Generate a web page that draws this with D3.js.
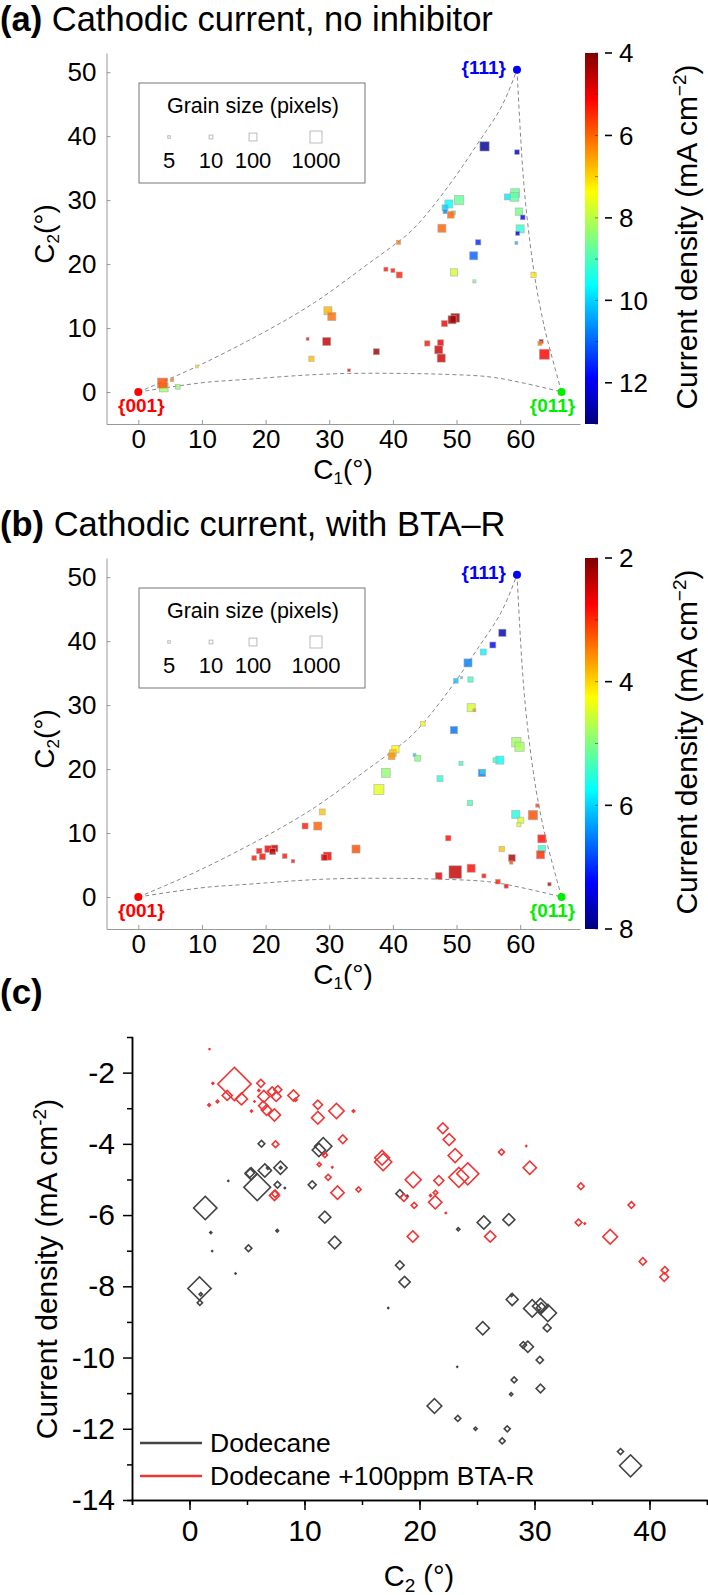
<!DOCTYPE html>
<html>
<head>
<meta charset="utf-8">
<script src="https://cdn.jsdelivr.net/npm/d3@7"></script>
<style>
  body { margin: 0; background: #fff; }
  text { font-family: "Liberation Sans", Arial, sans-serif; }
</style>
</head>
<body>
<svg id="fig"></svg>
<script>
const W = 708, H = 1595;
const svg = d3.select('#fig').attr('width', W).attr('height', H);

// ---------- data ----------
// corners of the standard triangle
const cornerLabels = ['{001}', '{111}', '{011}'];
const cornerC1 = [0, 59.5, 66.5];
const cornerC2 = [0, 50.4, 0];
const cornerColors = ['#ff0000', '#0000ff', '#00ee00'];

// triangle edges
const edgeAC1 = [0, 9.2, 19.1, 27.7, 34.7, 40.6, 44.7, 49.9, 53.7, 57.0, 59.5];
const edgeAC2 = [0, 4.0, 9.0, 14.0, 19.0, 23.3, 27.1, 33.8, 39.4, 44.5, 50.4];
const edgeBC1 = [0, 9.6, 15.9, 24, 33, 42, 47, 52.3, 57, 62.8, 66.5];
const edgeBC2 = [0, 1.4, 1.9, 2.5, 2.9, 2.9, 2.8, 2.6, 2.1, 0.9, 0];
const edgeCC1 = [59.5, 60.1, 60.9, 62.2, 63.3, 64.3, 66.5];
const edgeCC2 = [50.4, 39.4, 29.0, 18.6, 12.5, 8.1, 0];

// (a) no inhibitor: C1, C2 (deg), current density (mA cm-2), grain size (pixels)
const aC1 = [54.4,59.5,50.4,48.8,48.2,48.2,49.5,49.1,47.7,58.0,59.2,59.1,59.8,60.4,60.0,59.6,59.4,53.4,52.7,49.6,52.8,62.1,40.9,38.9,40.0,41.0,29.8,30.4,49.8,49.3,48.1,26.6,29.6,45.4,47.5,47.2,47.6,37.4,27.2,33.1,63.3,63.1,63.8,9.2,5.3,4.0,3.8,6.2];
const aC2 = [38.4,37.5,30.0,29.4,28.8,28.2,28.0,27.7,25.6,30.5,31.1,30.5,28.2,27.3,25.5,24.8,23.3,23.4,21.3,18.7,17.3,18.3,23.4,19.2,19.0,18.3,12.7,11.8,11.6,11.3,10.7,8.3,7.9,7.6,7.7,6.6,5.3,6.3,5.2,3.4,7.9,7.6,5.9,4.0,1.9,0.7,1.4,0.8];
const aJ = [-12.8,-12.5,-8.7,-9.6,-10.0,-10.7,-8.6,-6.0,-6.0,-9.8,-8.7,-8.8,-8.6,-12.1,-9.2,-12.0,-10.3,-11.5,-11.0,-7.8,-8.5,-7.2,-6.2,-5.3,-5.3,-5.4,-6.7,-6.1,-4.3,-4.3,-5.1,-5.1,-4.6,-5.3,-5.0,-4.7,-4.7,-4.3,-6.8,-5.1,-4.5,-6.2,-5.1,-7.3,-6.2,-8.2,-5.8,-8.3];
const aGrain = [220,17,220,110,35,12,12,52,110,35,160,160,73,17,110,12,6,24,110,73,7,24,12,12,12,35,110,110,160,110,35,6,110,24,35,110,110,35,24,6,12,12,330,6,8,160,330,17];

// (b) with BTA-R
const bC1 = [57.2,55.7,54.2,51.8,49.9,50.8,52.2,52.3,52.8,49.6,44.7,40.4,40.0,39.8,43.4,43.9,38.9,37.8,59.4,59.9,56.8,56.1,50.7,54.0,54.1,47.4,52.1,59.3,60.1,59.8,62.0,62.7,63.4,63.4,63.2,57.1,58.7,58.6,48.7,49.8,47.2,52.3,54.3,56.5,57.8,64.6,34.2,28.9,26.2,28.2,29.7,29.2,21.4,20.4,21.1,19.0,19.5,18.2,23.0,24.3];
const bC2 = [41.3,39.4,38.3,36.6,33.8,34.3,34.0,29.6,29.2,26.1,27.1,23.1,22.5,22.0,22.2,21.7,19.4,16.8,24.2,23.5,21.4,21.4,20.9,19.4,19.6,18.5,14.7,12.9,12.0,11.3,12.8,14.3,9.1,7.5,6.6,7.5,6.1,5.4,9.2,3.9,3.3,4.5,3.3,2.4,1.7,2.0,7.5,13.3,11.1,11.1,6.4,6.2,7.6,7.5,7.1,7.2,6.3,6.1,6.4,5.6];
const bJ = [-7.7,-7.3,-5.8,-6.5,-6.1,-5.9,-5.4,-4.5,-3.6,-6.6,-4.2,-4.2,-3.9,-3.6,-6.0,-5.0,-4.9,-4.4,-4.8,-4.8,-5.7,-5.4,-5.4,-6.5,-5.9,-5.5,-5.3,-5.6,-4.5,-4.4,-3.2,-3.1,-2.8,-5.5,-3.0,-3.9,-2.3,-3.2,-2.8,-2.4,-2.6,-2.8,-2.8,-2.9,-2.7,-2.3,-3.2,-3.9,-2.9,-3.3,-2.7,-2.6,-2.4,-2.7,-2.4,-2.8,-2.8,-2.9,-2.9,-2.8];
const bGrain = [73,35,35,110,17,4,24,110,6,73,17,73,52,52,6,35,160,330,220,220,110,17,12,73,12,35,24,110,35,12,220,8,110,73,110,24,52,8,24,1400,52,110,12,17,12,8,110,35,35,110,110,35,52,52,35,24,35,17,17,8];

const legendGrain = [5, 10, 100, 1000];

// (c) current density vs C2
const dodC2 = [6.26,11.25,11.63,5.36,5.25,6.55,6.81,7.91,7.93,5.89,7.65,8.29,3.37,10.67,1.37,11.77,1.85,7.63,12.63,5.13,1.97,18.29,18.93,18.29,4.00,0.87,0.98,0.90,25.59,27.77,23.37,18.70,17.28,28.06,28.00,29.80,30.52,31.16,30.60,31.10,25.50,29.02,29.42,30.46,23.28,28.23,30.52,27.97,21.30,23.33,24.87,27.63,27.19,37.48,38.35];
const dodJ = [-4.00,-4.17,-4.07,-4.84,-4.82,-4.75,-4.68,-4.67,-4.67,-5.22,-5.15,-5.24,-5.04,-5.15,-5.80,-6.06,-6.49,-6.44,-6.77,-6.93,-7.01,-5.40,-5.47,-7.41,-7.64,-8.06,-8.22,-8.46,-6.21,-6.13,-6.40,-7.88,-8.61,-8.37,-8.25,-8.62,-8.56,-8.75,-8.60,-9.17,-9.18,-9.65,-9.70,-10.07,-10.26,-10.63,-10.87,-11.03,-11.36,-11.71,-12.00,-12.00,-12.34,-12.64,-13.04];
const dodGrain = [39,153,259,125,75,153,6,153,6,617,39,1.5,1,55,470,125,3.5,6,140,39,1,55,3.5,65,1,470,9,24,153,125,9,110,1,125,6,259,221,259,87,55,153,39,110,46,0.5,31,65,9,187,31,9,31,31,31,419];

const btaC2 = [1.74,3.91,2.03,3.28,4.52,1.71,2.43,5.39,6.20,6.03,6.46,7.19,7.68,7.54,6.41,6.70,7.39,5.65,9.04,9.22,11.16,11.16,12.78,14.26,7.48,13.33,11.77,11.28,12.41,12.06,12.87,14.70,7.39,7.45,16.75,16.84,19.45,18.64,19.54,19.42,22.03,22.58,23.10,21.68,23.42,24.20,27.13,29.28,29.59,21.39,20.96,21.37,22.29,26.15,34.03,34.37,33.83,36.58,38.43,39.42,41.33,41.28];
const btaJ = [-1.34,-2.32,-2.30,-2.64,-2.74,-2.91,-2.81,-3.08,-2.30,-2.50,-2.67,-2.53,-2.48,-2.67,-2.93,-3.05,-3.19,-2.81,-2.64,-2.76,-2.90,-3.27,-3.08,-3.08,-4.01,-3.87,-4.31,-4.58,-4.66,-4.94,-5.37,-5.28,-5.45,-5.40,-4.39,-4.51,-5.01,-5.51,-5.73,-6.60,-3.56,-3.88,-4.33,-5.03,-4.94,-4.84,-4.23,-4.06,-4.67,-5.37,-5.45,-5.64,-5.94,-6.60,-5.19,-6.24,-6.21,-6.61,-5.72,-7.30,-7.55,-7.74];
const btaGrain = [0.5,960,3.5,87,125,6,6,3.5,55,3.5,125,75,55,87,75,99,125,1.5,110,9,75,140,203,6,39,65,24,14,1.5,31,153,24,87,46,187,259,221,46,31,110,99,125,170,87,346,419,31,1,153,19,3.5,153,1.5,110,39,1.5,39,187,39,46,46,65];

const seriesNames = ['Dodecane', 'Dodecane +100ppm BTA-R'];
const seriesColors = ['#444444', '#f03535'];

// ---------- helpers ----------
// jet colormap
const clamp = v => Math.max(0, Math.min(1, v));
const jet = t => d3.rgb(
  255 * clamp(1.5 - Math.abs(4 * t - 3)),
  255 * clamp(1.5 - Math.abs(4 * t - 2)),
  255 * clamp(1.5 - Math.abs(4 * t - 1))
).formatHex();

const squareSide = d3.scaleLog().domain([5, 1000]).range([2.5, 12]);

function trianglePanel(id, y0, tag, titleRest, c1, c2, cur, grain, cDomain, cTicks) {
  const g = svg.append('g').attr('class', 'panel-' + id);
  const x = d3.scaleLinear().domain([-5, 69.4]).range([106.5, 580]);
  const y = d3.scaleLinear().domain([-5, 53]).range([y0 + 424, y0 + 53]);
  const color = v => jet((v - cDomain[0]) / (cDomain[1] - cDomain[0]));

  // title
  const t = g.append('text').attr('x', 0).attr('y', y0 + 31).attr('font-size', 34.5);
  t.append('tspan').attr('font-weight', 'bold').text(tag);
  t.append('tspan').text(' ' + titleRest);

  // axes (inward ticks)
  const xAxis = g.append('g').attr('transform', `translate(0,${y0 + 424})`)
    .call(d3.axisBottom(x).tickValues(d3.range(0, 61, 10)).tickSizeInner(-4).tickSizeOuter(0).tickPadding(6));
  const yAxis = g.append('g').attr('transform', 'translate(106.5,0)')
    .call(d3.axisLeft(y).tickValues(d3.range(0, 51, 10)).tickSizeInner(-4).tickSizeOuter(0).tickPadding(10));
  [xAxis, yAxis].forEach(a => {
    a.attr('font-family', null).attr('font-size', null);
    a.selectAll('path, line').attr('stroke', '#999');
    a.selectAll('text').attr('font-size', 26).attr('fill', '#000');
  });

  const xl = g.append('text').attr('x', 343).attr('y', y0 + 479).attr('text-anchor', 'middle').attr('font-size', 28);
  xl.append('tspan').text('C');
  xl.append('tspan').attr('font-size', 17).attr('dy', 5).text('1');
  xl.append('tspan').attr('dy', -5).text('(°)');
  const yl = g.append('text').attr('transform', `translate(54,${y0 + 234}) rotate(-90)`).attr('text-anchor', 'middle').attr('font-size', 28);
  yl.append('tspan').text('C');
  yl.append('tspan').attr('font-size', 17).attr('dy', 5).text('2');
  yl.append('tspan').attr('dy', -5).text('(°)');

  // triangle edges
  const edge = d3.line().x(d => x(d[0])).y(d => y(d[1])).curve(d3.curveNatural);
  [[edgeAC1, edgeAC2], [edgeBC1, edgeBC2], [edgeCC1, edgeCC2]].forEach(([ec1, ec2]) => {
    g.append('path')
      .attr('d', edge(ec1.map((v, i) => [v, ec2[i]])))
      .attr('fill', 'none')
      .attr('stroke', '#888')
      .attr('stroke-width', 1)
      .attr('stroke-dasharray', '4,3');
  });

  // grains
  const pts = c1.map((v, i) => ({c1: v, c2: c2[i], j: cur[i], s: squareSide(grain[i])}));
  g.selectAll('.grain')
    .data(pts)
    .join('rect')
    .attr('class', 'grain')
    .attr('x', d => x(d.c1) - d.s / 2)
    .attr('y', d => y(d.c2) - d.s / 2)
    .attr('width', d => d.s)
    .attr('height', d => d.s)
    .attr('fill', d => color(d.j))
    .attr('fill-opacity', 0.82)
    .attr('stroke', '#aaa')
    .attr('stroke-opacity', 0.7)
    .attr('stroke-width', 0.8);

  // corners
  const corners = cornerLabels.map((l, i) => ({l, c1: cornerC1[i], c2: cornerC2[i], col: cornerColors[i]}));
  g.selectAll('.corner')
    .data(corners)
    .join('circle')
    .attr('class', 'corner')
    .attr('cx', d => x(d.c1))
    .attr('cy', d => y(d.c2))
    .attr('r', 4)
    .attr('fill', d => d.col);
  const labelPos = [[3, 20, 'middle'], [-11, 4, 'end'], [-9, 20, 'middle']];
  g.selectAll('.corner-label')
    .data(corners)
    .join('text')
    .attr('class', 'corner-label')
    .attr('x', (d, i) => x(d.c1) + labelPos[i][0])
    .attr('y', (d, i) => y(d.c2) + labelPos[i][1])
    .attr('text-anchor', (d, i) => labelPos[i][2])
    .attr('font-size', 19)
    .attr('font-weight', 'bold')
    .attr('fill', d => d.col)
    .text(d => d.l);

  // grain size legend
  g.append('rect')
    .attr('x', 139).attr('y', y0 + 83).attr('width', 226).attr('height', 100)
    .attr('fill', '#fff').attr('stroke', '#777').attr('stroke-width', 1);
  g.append('text').attr('x', 253).attr('y', y0 + 113).attr('text-anchor', 'middle')
    .attr('font-size', 21.5).text('Grain size (pixels)');
  const legX = [169, 211, 253, 316];
  g.selectAll('.leg-sym')
    .data(legendGrain)
    .join('rect')
    .attr('class', 'leg-sym')
    .attr('x', (d, i) => legX[i] - squareSide(d) / 2)
    .attr('y', d => y0 + 137 - squareSide(d) / 2)
    .attr('width', d => squareSide(d))
    .attr('height', d => squareSide(d))
    .attr('fill', '#fff')
    .attr('stroke', '#bbb')
    .attr('stroke-width', 1);
  g.selectAll('.leg-lab')
    .data(legendGrain)
    .join('text')
    .attr('class', 'leg-lab')
    .attr('x', (d, i) => legX[i])
    .attr('y', y0 + 168)
    .attr('text-anchor', 'middle')
    .attr('font-size', 22)
    .text(d => d);

  // colour bar
  const cs = d3.scaleLinear().domain(cDomain).range([y0 + 424, y0 + 53]);
  const grad = svg.append('defs').append('linearGradient')
    .attr('id', 'jet-' + id).attr('x1', 0).attr('y1', 1).attr('x2', 0).attr('y2', 0);
  grad.selectAll('stop')
    .data(d3.range(0, 1.0001, 0.025))
    .join('stop')
    .attr('offset', d => d)
    .attr('stop-color', d => jet(d));
  g.append('rect')
    .attr('x', 585).attr('y', y0 + 53).attr('width', 13).attr('height', 371)
    .attr('fill', `url(#jet-${id})`);
  g.selectAll('.cb-minor')
    .data(d3.range(Math.ceil(cDomain[0]), cDomain[1] + 0.001, 1))
    .join('line')
    .attr('class', 'cb-minor')
    .attr('x1', 595).attr('x2', 598)
    .attr('y1', d => cs(d)).attr('y2', d => cs(d))
    .attr('stroke', '#222').attr('stroke-opacity', 0.5);
  g.selectAll('.cb-tick')
    .data(cTicks)
    .join('line')
    .attr('class', 'cb-tick')
    .attr('x1', 605).attr('x2', 612)
    .attr('y1', d => cs(d)).attr('y2', d => cs(d))
    .attr('stroke', '#000').attr('stroke-width', 1.6);
  g.selectAll('.cb-lab')
    .data(cTicks)
    .join('text')
    .attr('class', 'cb-lab')
    .attr('x', 619)
    .attr('y', d => cs(d))
    .attr('dy', '0.36em')
    .attr('font-size', 26)
    .text(d => Math.abs(d));
  const cl = g.append('text').attr('transform', `translate(697,${y0 + 237}) rotate(-90)`)
    .attr('text-anchor', 'middle').attr('font-size', 30);
  cl.append('tspan').text('Current density (mA cm');
  cl.append('tspan').attr('font-size', 19).attr('dy', -11).text('−2');
  cl.append('tspan').attr('dy', 11).text(')');
}

trianglePanel('a', 0, '(a)', 'Cathodic current, no inhibitor', aC1, aC2, aJ, aGrain, [-13, -4], [-12, -10, -8, -6, -4]);
trianglePanel('b', 505, '(b)', 'Cathodic current, with BTA–R', bC1, bC2, bJ, bGrain, [-8, -2], [-8, -6, -4, -2]);

// ---------- panel (c) ----------
const gc = svg.append('g').attr('class', 'panel-c');
gc.append('text').attr('x', 0).attr('y', 1004).attr('font-size', 35).attr('font-weight', 'bold').text('(c)');

const xc = d3.scaleLinear().domain([-5, 45]).range([132, 707]);
const yc = d3.scaleLinear().domain([-14, -1]).range([1500, 1037]);
const fmt = d => String(d);

const styleAxis = a => {
  a.attr('font-family', null).attr('font-size', null);
  a.selectAll('path, line').attr('stroke', '#000').attr('stroke-width', 1.5);
  a.selectAll('text').attr('font-size', 30).attr('fill', '#000');
};
gc.append('g').attr('transform', 'translate(0,1500)')
  .call(d3.axisBottom(xc).tickValues(d3.range(-5, 46, 5)).tickSize(5).tickFormat(''))
  .call(styleAxis);
gc.append('g').attr('transform', 'translate(0,1500)')
  .call(d3.axisBottom(xc).tickValues(d3.range(0, 41, 10)).tickSizeInner(10).tickSizeOuter(0).tickPadding(10).tickFormat(fmt))
  .call(styleAxis);
gc.append('g').attr('transform', 'translate(132,0)')
  .call(d3.axisLeft(yc).tickValues(d3.range(-13, -1, 2)).tickSize(5).tickFormat(''))
  .call(styleAxis);
gc.append('g').attr('transform', 'translate(132,0)')
  .call(d3.axisLeft(yc).tickValues(d3.range(-14, -1, 2)).tickSizeInner(9).tickSizeOuter(0).tickPadding(8).tickFormat(fmt))
  .call(styleAxis);

const xcl = gc.append('text').attr('x', 419).attr('y', 1586).attr('text-anchor', 'middle').attr('font-size', 29);
xcl.append('tspan').text('C');
xcl.append('tspan').attr('font-size', 19).attr('dy', 6).text('2');
xcl.append('tspan').attr('dy', -6).text(' (°)');
const ycl = gc.append('text').attr('transform', 'translate(57,1269) rotate(-90)')
  .attr('text-anchor', 'middle').attr('font-size', 30);
ycl.append('tspan').text('Current density (mA cm');
ycl.append('tspan').attr('font-size', 19).attr('dy', -11).text('-2');
ycl.append('tspan').attr('dy', 11).text(')');

const diag = d3.scaleSqrt().domain([0, 1000]).range([0, 34]);
const diamond = gr => d3.symbol(d3.symbolSquare, Math.max(diag(gr) ** 2 / 2, 0.4))();
[[dodC2, dodJ, dodGrain], [btaC2, btaJ, btaGrain]].forEach(([sx, sy, sg], k) => {
  gc.append('g').selectAll('path')
    .data(sx.map((v, i) => ({c2: v, j: sy[i], g: sg[i]})))
    .join('path')
    .attr('d', d => diamond(d.g))
    .attr('transform', d => `translate(${xc(d.c2)},${yc(d.j)}) rotate(45)`)
    .attr('fill', 'none')
    .attr('stroke', seriesColors[k])
    .attr('stroke-width', 1.6);
});

// legend
const legY = [1443, 1476];
gc.selectAll('.leg-line')
  .data(seriesNames)
  .join('line')
  .attr('class', 'leg-line')
  .attr('x1', 140).attr('x2', 202)
  .attr('y1', (d, i) => legY[i]).attr('y2', (d, i) => legY[i])
  .attr('stroke', (d, i) => seriesColors[i])
  .attr('stroke-width', 2.5);
gc.selectAll('.leg-text')
  .data(seriesNames)
  .join('text')
  .attr('class', 'leg-text')
  .attr('x', 210)
  .attr('y', (d, i) => legY[i])
  .attr('dy', '0.35em')
  .attr('font-size', 26.5)
  .text(d => d);
</script>
</body>
</html>
